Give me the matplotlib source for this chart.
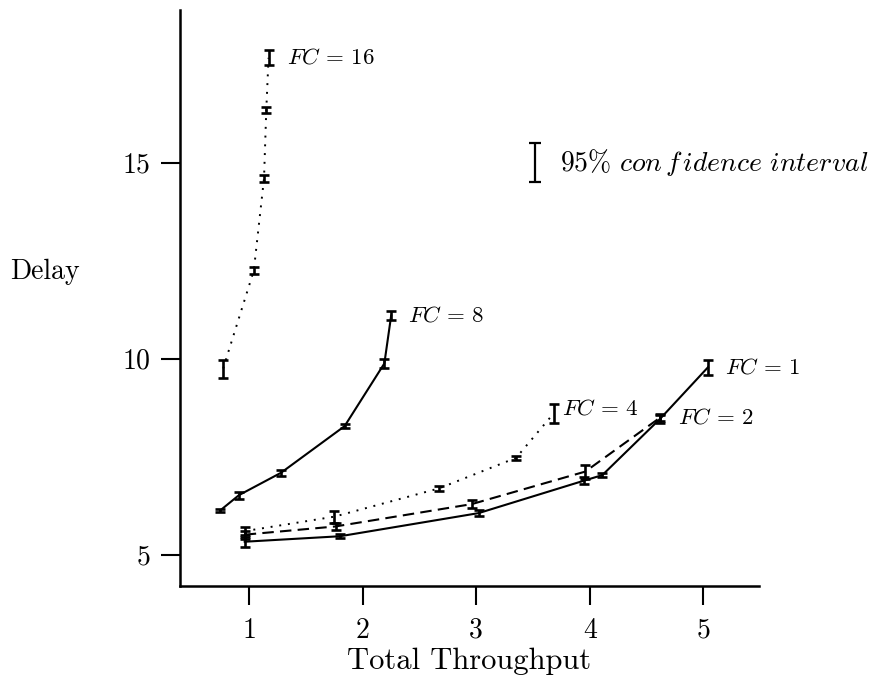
import matplotlib
matplotlib.use("Agg")
import matplotlib.pyplot as plt

plt.rcParams['font.family'] = 'serif'
plt.rcParams['font.serif'] = ['cmr10']
plt.rcParams['mathtext.fontset'] = 'cm'
plt.rcParams['axes.formatter.use_mathtext'] = True

# throughput / delay / half-width of 95% interval
fc1_x = [0.96, 1.80, 3.02, 3.95, 4.11, 4.62, 5.04]
fc1_y = [5.33, 5.47, 6.06, 6.89, 7.03, 8.47, 9.78]
fc1_err = [0.13, 0.05, 0.08, 0.08, 0.05, 0.10, 0.19]

fc2_x = [0.96, 1.76, 2.96, 3.96, 4.62]
fc2_y = [5.51, 5.72, 6.29, 7.12, 8.50]
fc2_err = [0.10, 0.10, 0.10, 0.18, 0.10]

fc4_x = [0.96, 1.75, 2.67, 3.35, 3.68]
fc4_y = [5.60, 5.97, 6.69, 7.47, 8.60]
fc4_err = [0.10, 0.15, 0.06, 0.05, 0.25]

fc8_x = [0.745, 0.91, 1.28, 1.84, 2.19, 2.25]
fc8_y = [6.13, 6.52, 7.09, 8.28, 9.88, 11.10]
fc8_err = [0.04, 0.09, 0.07, 0.06, 0.12, 0.12]

fc16_x = [0.77, 1.04, 1.13, 1.15, 1.17]
fc16_y = [9.75, 12.25, 14.60, 16.35, 17.68]
fc16_err = [0.23, 0.08, 0.08, 0.07, 0.19]

series = [
    (fc1_x, fc1_y, fc1_err, '-', r'$FC\,=\,1$', (12, 0)),
    (fc2_x, fc2_y, fc2_err, (0, (5.5, 3)), r'$FC\,=\,2$', (13, 0)),
    (fc4_x, fc4_y, fc4_err, (0, (1, 3.5)), r'$FC\,=\,4$', (6, 4)),
    (fc8_x, fc8_y, fc8_err, '-', r'$FC\,=\,8$', (12, 0)),
    (fc16_x, fc16_y, fc16_err, (0, (1, 3.5)), r'$FC\,=\,16$', (13, 0)),
]

fig = plt.figure(figsize=(8.94, 6.84), dpi=100)
ax = fig.add_axes([180/894, 1 - 586/684, (759-180)/894, (586-10)/684])

for xs, ys, errs, ls, lab, off in series:
    lw = 1.5 if ls == '-' or ls[1][0] > 2 else 1.4
    ax.plot(xs, ys, color='black', linestyle=ls, linewidth=lw)
    ax.errorbar(xs, ys, yerr=errs, fmt='none', ecolor='black',
                elinewidth=1.9, capsize=3.5, capthick=1.9)
    ax.annotate(lab, (xs[-1], ys[-1]), xytext=off, textcoords='offset points',
                ha='left', va='center', fontsize=16.5)

# legend for the interval bars
ax.errorbar([3.52], [15.0], yerr=[0.5], fmt='none', ecolor='black',
            elinewidth=1.6, capsize=4.5, capthick=1.6)
ax.annotate(r'$\mathrm{95\%}\ con\,f\,idence\ interval$', (3.52, 15.0),
            xytext=(18, 0), textcoords='offset points',
            ha='left', va='center', fontsize=20)

ax.set_xlim(0.39, 5.49)
ax.set_ylim(4.2, 18.9)
ax.set_xticks([1, 2, 3, 4, 5])
ax.set_yticks([5, 10, 15])
ax.set_xticklabels(['1', '2', '3', '4', '5'])
ax.set_yticklabels(['5', '10', '15'])
ax.tick_params(axis='both', direction='out', length=13.5, width=1.5,
               labelsize=20, color='black')
ax.tick_params(axis='x', pad=9)
ax.tick_params(axis='y', pad=8)

for side in ['top', 'right']:
    ax.spines[side].set_visible(False)
for side in ['left', 'bottom']:
    ax.spines[side].set_linewidth(1.8)

ax.set_xlabel('Total Throughput', fontsize=22, labelpad=3)
fig.text(45/894, 1 - 272/684, 'Delay', fontsize=20, ha='center', va='center')

fig.savefig('out.png', dpi=100)
